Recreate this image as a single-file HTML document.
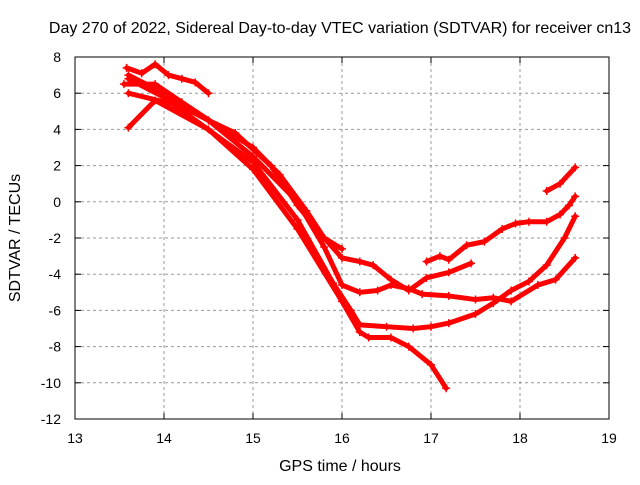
<!DOCTYPE html>
<html><head><meta charset="utf-8"><style>
body{margin:0;background:#fff}
svg text{font-family:"Liberation Sans",sans-serif;font-size:14px;fill:#000}
svg text.big{font-size:16px}
</style></head><body>
<svg id="chart" width="640" height="480">
<rect width="640" height="480" fill="#fff"/>
<text class="big" x="340" y="33" text-anchor="middle">Day 270 of 2022, Sidereal Day-to-day VTEC variation (SDTVAR) for receiver cn13</text>
<text class="big" x="340" y="471" text-anchor="middle">GPS time / hours</text>
<text class="big" transform="translate(20,238) rotate(-90)" text-anchor="middle">SDTVAR / TECUs</text>
<g id="grid"></g><g id="series"></g><g id="axes"></g>
</svg>
<script>
const xTicks=[13,14,15,16,17,18,19];
const yTicks=[8,6,4,2,0,-2,-4,-6,-8,-10,-12];
const seriesA_t=[13.58,13.75,13.9,14.05,14.2,14.35,14.5];
const seriesA_v=[7.4,7.1,7.6,7.0,6.8,6.6,6.0];
const seriesB_t=[13.55,13.9,14.2,14.6,15.0,15.3,15.6,15.8,16.0];
const seriesB_v=[6.5,6.5,5.5,4.2,3.0,1.5,-0.5,-2.0,-2.6];
const seriesC_t=[13.6,14.5,14.8,15.2,15.5,15.8,16.0,16.2,16.35,16.55,16.75,16.95,17.2,17.45];
const seriesC_v=[6.8,4.5,3.8,2.0,-0.2,-2.0,-3.1,-3.3,-3.5,-4.3,-4.9,-4.2,-3.9,-3.4];
const seriesD_t=[13.6,14.0,14.5,15.0,15.5,15.8,16.0,16.2,16.4,16.55,16.75,16.9,17.2,17.5,17.7,17.9,18.2,18.4,18.62];
const seriesD_v=[7.0,6.0,4.5,2.5,0,-2.5,-4.6,-5.0,-4.9,-4.6,-4.8,-5.1,-5.2,-5.4,-5.3,-5.5,-4.6,-4.3,-3.1];
const seriesE_t=[13.6,14.1,15.0,15.5,15.9,16.1,16.2,16.5,16.8,17.0,17.2,17.5,17.7,17.9,18.1,18.3,18.5,18.62];
const seriesE_v=[6.0,5.4,2.2,-1.0,-4.5,-6.0,-6.8,-6.9,-7.0,-6.9,-6.7,-6.2,-5.6,-4.9,-4.4,-3.5,-2.0,-0.8];
const seriesF_t=[13.6,13.9,14.5,15.0,15.5,16.0,16.2,16.3,16.55,16.75,17.0,17.17];
const seriesF_v=[4.1,5.6,4.0,1.8,-1.5,-5.5,-7.2,-7.5,-7.5,-8.0,-9.0,-10.3];
const seriesG_t=[16.95,17.1,17.2,17.4,17.6,17.8,17.95,18.1,18.3,18.45,18.55,18.62];
const seriesG_v=[-3.3,-3.0,-3.2,-2.4,-2.2,-1.5,-1.2,-1.1,-1.1,-0.7,-0.2,0.3];
const seriesH_t=[18.3,18.45,18.62];
const seriesH_v=[0.6,1.0,1.9];
const allSeries=[[seriesA_t,seriesA_v],[seriesB_t,seriesB_v],[seriesC_t,seriesC_v],[seriesD_t,seriesD_v],[seriesE_t,seriesE_v],[seriesF_t,seriesF_v],[seriesG_t,seriesG_v],[seriesH_t,seriesH_v]];
const X0=75,X1=609,Y0=57,Y1=419;
const xs=t=>X0+(t-13)/6*(X1-X0);
const ys=v=>Y0+(8-v)/20*(Y1-Y0);
const NS="http://www.w3.org/2000/svg";
const mk=(tag,attrs,parent)=>{const e=document.createElementNS(NS,tag);for(const k in attrs)e.setAttribute(k,attrs[k]);parent.appendChild(e);return e;};
const grid=document.getElementById('grid'),axes=document.getElementById('axes'),ser=document.getElementById('series');
xTicks.forEach(t=>{
  const x=xs(t);
  if(t>13&&t<19){const l=mk('line',{x1:x,x2:x,y1:Y0,y2:Y1,stroke:'#999','stroke-dasharray':'3,3'},grid);
  
  }
  mk('line',{x1:x,x2:x,y1:Y1,y2:Y1-6,stroke:'#000'},axes);
  mk('line',{x1:x,x2:x,y1:Y0,y2:Y0+6,stroke:'#000'},axes);
  const tx=mk('text',{x:x,y:Y1+24,'text-anchor':'middle'},axes);tx.textContent=t;
  
  
});
yTicks.forEach(v=>{
  const y=ys(v);
  if(v<8&&v>-12){const l=mk('line',{x1:X0,x2:X1,y1:y,y2:y,stroke:'#999','stroke-dasharray':'3,3'},grid);
  
  }
  mk('line',{x1:X0,x2:X0+6,y1:y,y2:y,stroke:'#000'},axes);
  mk('line',{x1:X1,x2:X1-6,y1:y,y2:y,stroke:'#000'},axes);
  const tx=mk('text',{x:X0-14,y:y+5,'text-anchor':'end'},axes);tx.textContent=v;
  
  
});
const fr=mk('rect',{x:X0,y:Y0,width:X1-X0,height:Y1-Y0,fill:'none',stroke:'#000'},axes);


allSeries.forEach(([T,V],i)=>{
  const pts=T.map((t,j)=>xs(t)+','+ys(V[j])).join(' ');
  const pl=mk('polyline',{points:pts,fill:'none',stroke:'#f00','stroke-width':5,'stroke-linejoin':'round','stroke-linecap':'round'},ser);
  
  
  T.forEach((t,j)=>{
    const x=xs(t),y=ys(V[j]);
    const p=mk('path',{d:`M${x-4},${y}H${x+4}M${x},${y-4}V${y+4}`,stroke:'#f00','stroke-width':1.5},ser);
    
    
  });
});
</script>
</body></html>
